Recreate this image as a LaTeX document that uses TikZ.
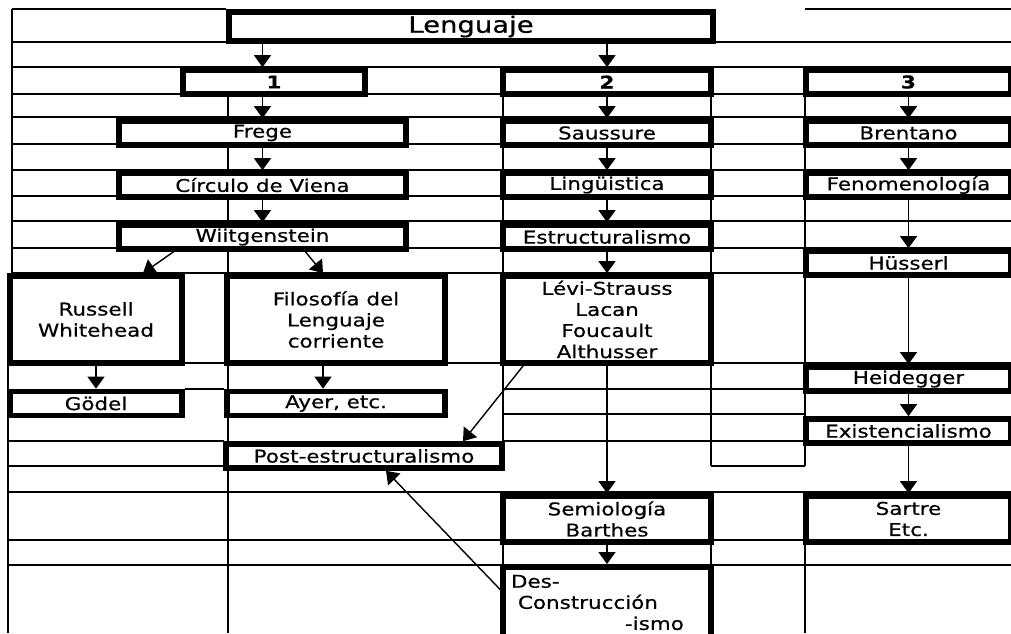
\documentclass[tikz,border=0pt]{standalone}
\usepackage{fontspec}
\setmainfont{DejaVu Sans}[FakeStretch=1.22, FakeBold=0.6]
\usepackage{tikz}
\usetikzlibrary{arrows.meta, positioning, calc}

\begin{document}
\begin{tikzpicture}[
    x=0.025cm, y=-0.025cm,
    box/.style={draw, line width=4pt, fill=white, align=center, inner sep=1pt, font=\fontsize{12.5}{15}\selectfont},
    onerow/.style={box, minimum height=0.6cm},
    colA/.style={onerow, minimum width=7.175cm},
    colB/.style={box, minimum width=5.2cm},
    colC/.style={box, minimum width=5.125cm},
    tabline/.style={line width=0.9pt},
    arrow/.style={-{Triangle[width=12pt,length=8.5pt]}, line width=1pt}
]
    \useasboundingbox (0,0) rectangle (1011,633);

    % table rules behind the boxes
    \foreach \y in {67,94,117,144,170,196,221,248,273}
        \draw[tabline] (12,\y) -- (1011,\y);
    \foreach \y in {363,492,540,565}
        \draw[tabline] (8,\y) -- (1011,\y);
    \draw[tabline] (12,9) -- (226,9) (805,9) -- (1011,9);
    \draw[tabline] (12,42) -- (226,42) (716,42) -- (1011,42);
    \draw[tabline] (185,389) -- (224,389) (503,389) -- (805,389);
    \draw[tabline] (503,414) -- (805,414);
    \draw[tabline] (8,441) -- (224,441) (503,441) -- (805,441);
    \draw[tabline] (8,466) -- (224,466) (711,466) -- (805,466);
    \draw[tabline] (12,9) -- (12,273) (8,363) -- (8,633);
    \draw[tabline] (228,94) -- (228,633);
    \draw[tabline] (503,94) -- (503,471) (503,540) -- (503,633);
    \draw[tabline] (711,94) -- (711,466) (711,540) -- (711,565);
    \draw[tabline] (805,94) -- (805,466) (805,540) -- (805,633);

    % Top
    \node[box, minimum width=12.1cm, minimum height=0.73cm, font=\fontsize{16}{19}\selectfont] (lenguaje) at (471, 26.5) {Lenguaje};

    % Column 1
    \node[onerow, minimum width=4.55cm] (uno) at (274, 82) {\textbf{1}};
    \node[colA] (frege) at (262.5, 133) {Frege};
    \node[colA] (circulo) at (262.5, 185) {Círculo de Viena};
    \node[colA] (wiit) at (262.5, 237) {Wiitgenstein};
    \node[box, minimum width=4.3cm, minimum height=2.175cm] (russell) at (96, 319.5) {Russell\\Whitehead};
    \node[box, minimum width=5.45cm, minimum height=2.175cm] (filo) at (336, 319.5) {Filosofía del\\Lenguaje\\corriente};
    \node[onerow, minimum width=4.3cm] (godel) at (96, 403.5) {Gödel};
    \node[onerow, minimum width=5.45cm] (ayer) at (336, 403.5) {Ayer, etc.};
    \node[onerow, minimum width=6.9cm] (post) at (364, 456) {Post-estructuralismo};

    % Column 2
    \node[colB, minimum height=0.6cm] (dos) at (607, 82) {\textbf{2}};
    \node[colB, minimum height=0.6cm] (saussure) at (607, 133) {Saussure};
    \node[colB, minimum height=0.6cm] (ling) at (607, 185) {Lingüistica};
    \node[colB, minimum height=0.6cm] (estruct) at (607, 237) {Estructuralismo};
    \node[colB, minimum height=2.175cm] (levi) at (607, 319.5) {Lévi-Strauss\\Lacan\\Foucault\\Althusser};
    \node[colB, minimum height=1.15cm] (semio) at (607, 519) {Semiología\\Barthes};
    \node[colB, minimum height=1.585cm, text width=4.8cm, inner sep=0.2cm, align=left] (des) at (607, 602.5)
        {Des-\\\hspace*{0.175cm}Construcción\\\hspace*{2.85cm}-ismo};

    % Column 3
    \node[colC, minimum height=0.6cm] (tres) at (908.5, 82) {\textbf{3}};
    \node[colC, minimum height=0.6cm] (brentano) at (908.5, 133) {Brentano};
    \node[colC, minimum height=0.6cm] (fenom) at (908.5, 185) {Fenomenología};
    \node[colC, minimum height=0.6cm] (husserl) at (908.5, 263) {Hüsserl};
    \node[colC, minimum height=0.6cm] (heidegger) at (908.5, 379) {Heidegger};
    \node[colC, minimum height=0.6cm] (exist) at (908.5, 431) {Existencialismo};
    \node[colC, minimum height=1.15cm] (sartre) at (908.5, 519) {Sartre\\Etc.};

    % Arrows, column 1
    \draw[arrow] (lenguaje.south -| frege) -- (uno.north -| frege);
    \draw[arrow] (uno.south -| frege) -- (frege);
    \draw[arrow] (frege) -- (circulo);
    \draw[arrow] (circulo) -- (wiit);
    \draw[arrow] ($(wiit.south)+(-89,0)$) -- ($(russell.north)+(47,0)$);
    \draw[arrow] ($(wiit.south)+(43,0)$) -- ($(filo.north)+(-13,0)$);
    \draw[arrow] (russell.south) -- (russell.south |- godel.north);
    \draw[arrow] ($(filo.south)+(-13,0)$) -- ($(ayer.north)+(-13,0)$);

    % Arrows, column 2
    \draw[arrow] (lenguaje.south -| dos) -- (dos);
    \draw[arrow] (dos) -- (saussure);
    \draw[arrow] (saussure) -- (ling);
    \draw[arrow] (ling) -- (estruct);
    \draw[arrow] (estruct) -- (levi);
    \draw[arrow] (levi) -- (semio);
    \draw[arrow] (semio) -- (des);
    \draw[arrow] ($(levi.south west)+(23,0)$) -- ($(post.north)+(99,0)$);
    \draw[arrow] ($(des.west)+(0,-13)$) -- ($(post.south)+(22,0)$);

    % Arrows, column 3
    \draw[arrow] (tres) -- (brentano);
    \draw[arrow] (brentano) -- (fenom);
    \draw[arrow] (fenom) -- (husserl);
    \draw[arrow] (husserl) -- (heidegger);
    \draw[arrow] (heidegger) -- (exist);
    \draw[arrow] (exist) -- (sartre);
\end{tikzpicture}
\end{document}
